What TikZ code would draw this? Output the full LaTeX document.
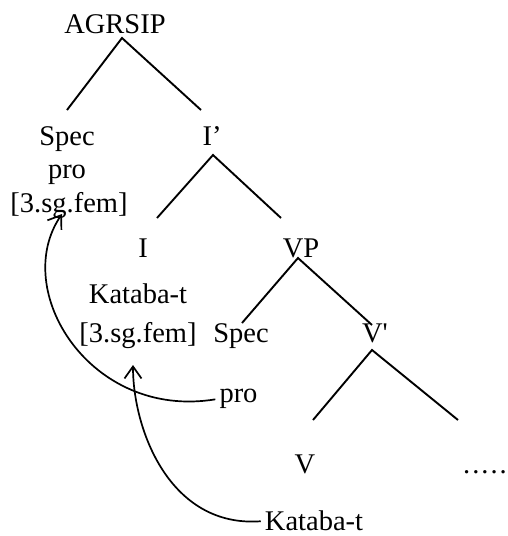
\documentclass[tikz,border=0pt]{standalone}
\usepackage{fontspec}
\setmainfont{Liberation Serif}
\newfontfamily\straightfont{Liberation Serif}
\usetikzlibrary{arrows.meta,calc}
\begin{document}
\begin{tikzpicture}[x=1pt,y=-1pt,
  lbl/.style={anchor=base,inner sep=0pt,font=\fontsize{28.5}{33}\selectfont},
  branch/.style={line width=1.9pt},
  mv/.style={line width=1.7pt,-{Straight Barb[length=12pt,width=17pt,line width=1.7pt]}}]
\useasboundingbox (0,0) rectangle (508,536);
\fill[white] (0,0) rectangle (508,536);
% labels
\node[lbl] (agr) at (115,33) {AGRSIP};
\node[lbl] (spec1) at (67,145) {Spec};
\node[lbl] (pro1) at (67,178) {pro};
\node[lbl] (feat1) at (69,212) {[3.sg.fem]};
\node[lbl] (ibar) at (212,145) {I’};
\node[lbl] (i) at (143,257) {I};
\node[lbl] (vp) at (301,257) {VP};
\node[lbl] (kat1) at (138,303) {Kataba-t};
\node[lbl] (feat2) at (138,342) {[3.sg.fem]};
\node[lbl] (spec2) at (241,342) {Spec};
\node[lbl] (vbar) at (375,342) {\straightfont V'};
\node[lbl] (pro2) at (238.5,402) {pro};
\node[lbl] (v) at (305,473) {V};
\node[lbl,anchor=base west] (dots) at (463,473) {.\kern2pt.\kern2pt.\kern2pt.\kern2pt.};
\node[lbl] (kat2) at (314,530) {Kataba-t};
% branch points
\coordinate (agrA) at (122,38);
\coordinate (agrL) at (67,110);
\coordinate (agrR) at (201,110);
\coordinate (ibarA) at (213,155);
\coordinate (ibarL) at (157,218);
\coordinate (ibarR) at (281,218);
\coordinate (vpA) at (298,258);
\coordinate (vpL) at (242,323);
\coordinate (vpR) at (372,325);
\coordinate (vbarA) at (372,350);
\coordinate (vbarL) at (313,420);
\coordinate (vbarR) at (458,420);
\draw[branch] (agrL) -- (agrA) -- (agrR);
\draw[branch] (ibarL) -- (ibarA) -- (ibarR);
\draw[branch] (vpL) -- (vpA) -- (vpR);
\draw[branch] (vbarL) -- (vbarA) -- (vbarR);
% movement arrows
\coordinate (tip1) at (62,214);
\coordinate (tip2) at (133,365);
\draw[mv] ($(pro2.west)+(-4,1)$) .. controls (90,420) and (10,290) .. (tip1);
\draw[mv] ($(kat2.west)+(-4,1)$) .. controls (170,528) and (133,430) .. (tip2);
\end{tikzpicture}
\end{document}
